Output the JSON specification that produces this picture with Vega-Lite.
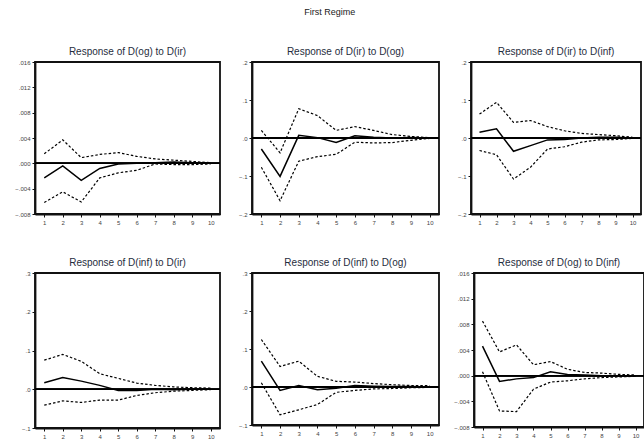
{
  "$schema": "https://vega.github.io/schema/vega-lite/v6.json",
  "background": "white",
  "padding": {"left": 13, "top": 8, "right": 0, "bottom": 0},
  "title": {"text": "First Regime", "fontSize": 9, "font": "Liberation Sans", "fontWeight": "normal", "color": "#222", "anchor": "middle", "offset": 29},
  "datasets": {
    "irf": [
      {"panel": 1, "step": 1, "lo": -0.0062, "irf": -0.0023, "hi": 0.0015},
      {"panel": 1, "step": 2, "lo": -0.0045, "irf": -0.0004, "hi": 0.0037},
      {"panel": 1, "step": 3, "lo": -0.0061, "irf": -0.0027, "hi": 0.0009},
      {"panel": 1, "step": 4, "lo": -0.0023, "irf": -0.0008, "hi": 0.0014},
      {"panel": 1, "step": 5, "lo": -0.0015, "irf": -0.0001, "hi": 0.0017},
      {"panel": 1, "step": 6, "lo": -0.0011, "irf": 0.0000, "hi": 0.0011},
      {"panel": 1, "step": 7, "lo": -0.0001, "irf": 0.0001, "hi": 0.0007},
      {"panel": 1, "step": 8, "lo": -0.0002, "irf": 0.0002, "hi": 0.0005},
      {"panel": 1, "step": 9, "lo": -0.0002, "irf": 0.0001, "hi": 0.0003},
      {"panel": 1, "step": 10, "lo": -0.0001, "irf": 0.0000, "hi": 0.0001},
      {"panel": 2, "step": 1, "lo": -0.077, "irf": -0.029, "hi": 0.020},
      {"panel": 2, "step": 2, "lo": -0.165, "irf": -0.101, "hi": -0.039},
      {"panel": 2, "step": 3, "lo": -0.061, "irf": 0.007, "hi": 0.077},
      {"panel": 2, "step": 4, "lo": -0.049, "irf": 0.001, "hi": 0.059},
      {"panel": 2, "step": 5, "lo": -0.043, "irf": -0.012, "hi": 0.020},
      {"panel": 2, "step": 6, "lo": -0.011, "irf": 0.006, "hi": 0.030},
      {"panel": 2, "step": 7, "lo": -0.013, "irf": 0.002, "hi": 0.020},
      {"panel": 2, "step": 8, "lo": -0.012, "irf": 0.000, "hi": 0.009},
      {"panel": 2, "step": 9, "lo": -0.006, "irf": 0.001, "hi": 0.004},
      {"panel": 2, "step": 10, "lo": -0.001, "irf": 0.000, "hi": 0.001},
      {"panel": 3, "step": 1, "lo": -0.033, "irf": 0.015, "hi": 0.063},
      {"panel": 3, "step": 2, "lo": -0.044, "irf": 0.024, "hi": 0.094},
      {"panel": 3, "step": 3, "lo": -0.108, "irf": -0.035, "hi": 0.041},
      {"panel": 3, "step": 4, "lo": -0.077, "irf": -0.020, "hi": 0.046},
      {"panel": 3, "step": 5, "lo": -0.029, "irf": -0.005, "hi": 0.030},
      {"panel": 3, "step": 6, "lo": -0.023, "irf": -0.004, "hi": 0.019},
      {"panel": 3, "step": 7, "lo": -0.011, "irf": 0.000, "hi": 0.012},
      {"panel": 3, "step": 8, "lo": -0.005, "irf": 0.002, "hi": 0.009},
      {"panel": 3, "step": 9, "lo": -0.004, "irf": 0.002, "hi": 0.006},
      {"panel": 3, "step": 10, "lo": -0.001, "irf": 0.000, "hi": 0.002},
      {"panel": 4, "step": 1, "lo": -0.041, "irf": 0.017, "hi": 0.075},
      {"panel": 4, "step": 2, "lo": -0.030, "irf": 0.030, "hi": 0.090},
      {"panel": 4, "step": 3, "lo": -0.034, "irf": 0.021, "hi": 0.072},
      {"panel": 4, "step": 4, "lo": -0.028, "irf": 0.010, "hi": 0.040},
      {"panel": 4, "step": 5, "lo": -0.028, "irf": -0.003, "hi": 0.028},
      {"panel": 4, "step": 6, "lo": -0.016, "irf": -0.003, "hi": 0.016},
      {"panel": 4, "step": 7, "lo": -0.009, "irf": 0.000, "hi": 0.010},
      {"panel": 4, "step": 8, "lo": -0.005, "irf": -0.001, "hi": 0.006},
      {"panel": 4, "step": 9, "lo": -0.003, "irf": 0.000, "hi": 0.004},
      {"panel": 4, "step": 10, "lo": -0.001, "irf": 0.000, "hi": 0.003},
      {"panel": 5, "step": 1, "lo": 0.011, "irf": 0.068, "hi": 0.125},
      {"panel": 5, "step": 2, "lo": -0.073, "irf": -0.009, "hi": 0.054},
      {"panel": 5, "step": 3, "lo": -0.060, "irf": 0.004, "hi": 0.068},
      {"panel": 5, "step": 4, "lo": -0.046, "irf": -0.007, "hi": 0.028},
      {"panel": 5, "step": 5, "lo": -0.014, "irf": -0.003, "hi": 0.015},
      {"panel": 5, "step": 6, "lo": -0.009, "irf": 0.004, "hi": 0.013},
      {"panel": 5, "step": 7, "lo": -0.005, "irf": 0.002, "hi": 0.009},
      {"panel": 5, "step": 8, "lo": -0.004, "irf": 0.001, "hi": 0.006},
      {"panel": 5, "step": 9, "lo": -0.002, "irf": 0.001, "hi": 0.004},
      {"panel": 5, "step": 10, "lo": -0.001, "irf": 0.000, "hi": 0.004},
      {"panel": 6, "step": 1, "lo": 0.0006, "irf": 0.0046, "hi": 0.0085},
      {"panel": 6, "step": 2, "lo": -0.0055, "irf": -0.0009, "hi": 0.0037},
      {"panel": 6, "step": 3, "lo": -0.0056, "irf": -0.0005, "hi": 0.0048},
      {"panel": 6, "step": 4, "lo": -0.0021, "irf": -0.0003, "hi": 0.0017},
      {"panel": 6, "step": 5, "lo": -0.0010, "irf": 0.0006, "hi": 0.0022},
      {"panel": 6, "step": 6, "lo": -0.0008, "irf": 0.0002, "hi": 0.0010},
      {"panel": 6, "step": 7, "lo": -0.0005, "irf": 0.0001, "hi": 0.0005},
      {"panel": 6, "step": 8, "lo": -0.0003, "irf": 0.0000, "hi": 0.0004},
      {"panel": 6, "step": 9, "lo": -0.0002, "irf": 0.0000, "hi": 0.0002},
      {"panel": 6, "step": 10, "lo": -0.0001, "irf": 0.0000, "hi": 0.0001}
    ]
  },
  "spacing": 31,
  "vconcat": [
    {
      "spacing": 11,
      "hconcat": [
        {
          "width": 185, "height": 152,
          "title": "Response of D(og) to D(ir)",
          "data": {"name": "irf"},
          "transform": [{"filter": "datum.panel == 1"}],
          "encoding": {
            "x": {"field": "step", "type": "quantitative", "scale": {"domain": [0.5, 10.5], "nice": false}, "axis": {"values": [1,2,3,4,5,6,7,8,9,10], "tickCount": 20, "title": null, "format": "d"}}
          },
          "layer": [
            {"mark": {"type": "rule", "color": "black", "strokeWidth": 1.2}, "encoding": {"y": {"datum": 0, "type": "quantitative", "scale": {"domain": [-0.008, 0.016], "nice": false}, "axis": {"values": [-0.008,-0.004,0,0.004,0.008,0.012,0.016], "tickCount": 20, "title": null, "labelOverlap": false, "labelExpr": "replace(format(datum.value, '.3f'), '0.', '.')"}}, "x": {"value": 0}, "x2": {"value": 185}}},
            {"mark": {"type": "line", "color": "black", "strokeWidth": 1.2, "strokeDash": [2.5, 2]}, "encoding": {"y": {"field": "hi", "type": "quantitative"}}},
            {"mark": {"type": "line", "color": "black", "strokeWidth": 1.2, "strokeDash": [2.5, 2]}, "encoding": {"y": {"field": "lo", "type": "quantitative"}}},
            {"mark": {"type": "line", "color": "black", "strokeWidth": 1.5}, "encoding": {"y": {"field": "irf", "type": "quantitative"}}}
          ]
        },
        {
          "width": 187, "height": 152,
          "title": "Response of D(ir) to D(og)",
          "data": {"name": "irf"},
          "transform": [{"filter": "datum.panel == 2"}],
          "encoding": {
            "x": {"field": "step", "type": "quantitative", "scale": {"domain": [0.5, 10.5], "nice": false}, "axis": {"values": [1,2,3,4,5,6,7,8,9,10], "tickCount": 20, "title": null, "format": "d"}}
          },
          "layer": [
            {"mark": {"type": "rule", "color": "black", "strokeWidth": 1.2}, "encoding": {"y": {"datum": 0, "type": "quantitative", "scale": {"domain": [-0.2, 0.2], "nice": false}, "axis": {"values": [-0.2,-0.1,0,0.1,0.2], "tickCount": 20, "title": null, "labelOverlap": false, "labelExpr": "replace(format(datum.value, '.1f'), '0.', '.')"}}, "x": {"value": 0}, "x2": {"value": 187}}},
            {"mark": {"type": "line", "color": "black", "strokeWidth": 1.2, "strokeDash": [2.5, 2]}, "encoding": {"y": {"field": "hi", "type": "quantitative"}}},
            {"mark": {"type": "line", "color": "black", "strokeWidth": 1.2, "strokeDash": [2.5, 2]}, "encoding": {"y": {"field": "lo", "type": "quantitative"}}},
            {"mark": {"type": "line", "color": "black", "strokeWidth": 1.5}, "encoding": {"y": {"field": "irf", "type": "quantitative"}}}
          ]
        },
        {
          "width": 170, "height": 152,
          "title": "Response of D(ir) to D(inf)",
          "data": {"name": "irf"},
          "transform": [{"filter": "datum.panel == 3"}],
          "encoding": {
            "x": {"field": "step", "type": "quantitative", "scale": {"domain": [0.5, 10.5], "nice": false}, "axis": {"values": [1,2,3,4,5,6,7,8,9,10], "tickCount": 20, "title": null, "format": "d"}}
          },
          "layer": [
            {"mark": {"type": "rule", "color": "black", "strokeWidth": 1.2}, "encoding": {"y": {"datum": 0, "type": "quantitative", "scale": {"domain": [-0.2, 0.2], "nice": false}, "axis": {"values": [-0.2,-0.1,0,0.1,0.2], "tickCount": 20, "title": null, "labelOverlap": false, "labelExpr": "replace(format(datum.value, '.1f'), '0.', '.')"}}, "x": {"value": 0}, "x2": {"value": 170}}},
            {"mark": {"type": "line", "color": "black", "strokeWidth": 1.2, "strokeDash": [2.5, 2]}, "encoding": {"y": {"field": "hi", "type": "quantitative"}}},
            {"mark": {"type": "line", "color": "black", "strokeWidth": 1.2, "strokeDash": [2.5, 2]}, "encoding": {"y": {"field": "lo", "type": "quantitative"}}},
            {"mark": {"type": "line", "color": "black", "strokeWidth": 1.5}, "encoding": {"y": {"field": "irf", "type": "quantitative"}}}
          ]
        }
      ]
    },
    {
      "spacing": 11,
      "hconcat": [
        {
          "width": 185, "height": 155,
          "title": "Response of D(inf) to D(ir)",
          "data": {"name": "irf"},
          "transform": [{"filter": "datum.panel == 4"}],
          "encoding": {
            "x": {"field": "step", "type": "quantitative", "scale": {"domain": [0.5, 10.5], "nice": false}, "axis": {"values": [1,2,3,4,5,6,7,8,9,10], "tickCount": 20, "title": null, "format": "d"}}
          },
          "layer": [
            {"mark": {"type": "rule", "color": "black", "strokeWidth": 1.2}, "encoding": {"y": {"datum": 0, "type": "quantitative", "scale": {"domain": [-0.1, 0.3], "nice": false}, "axis": {"values": [-0.1,0,0.1,0.2,0.3], "tickCount": 20, "title": null, "labelOverlap": false, "labelExpr": "replace(format(datum.value, '.1f'), '0.', '.')"}}, "x": {"value": 0}, "x2": {"value": 185}}},
            {"mark": {"type": "line", "color": "black", "strokeWidth": 1.2, "strokeDash": [2.5, 2]}, "encoding": {"y": {"field": "hi", "type": "quantitative"}}},
            {"mark": {"type": "line", "color": "black", "strokeWidth": 1.2, "strokeDash": [2.5, 2]}, "encoding": {"y": {"field": "lo", "type": "quantitative"}}},
            {"mark": {"type": "line", "color": "black", "strokeWidth": 1.5}, "encoding": {"y": {"field": "irf", "type": "quantitative"}}}
          ]
        },
        {
          "width": 187, "height": 152,
          "title": "Response of D(inf) to D(og)",
          "data": {"name": "irf"},
          "transform": [{"filter": "datum.panel == 5"}],
          "encoding": {
            "x": {"field": "step", "type": "quantitative", "scale": {"domain": [0.5, 10.5], "nice": false}, "axis": {"values": [1,2,3,4,5,6,7,8,9,10], "tickCount": 20, "title": null, "format": "d"}}
          },
          "layer": [
            {"mark": {"type": "rule", "color": "black", "strokeWidth": 1.2}, "encoding": {"y": {"datum": 0, "type": "quantitative", "scale": {"domain": [-0.1, 0.3], "nice": false}, "axis": {"values": [-0.1,0,0.1,0.2,0.3], "tickCount": 20, "title": null, "labelOverlap": false, "labelExpr": "replace(format(datum.value, '.1f'), '0.', '.')"}}, "x": {"value": 0}, "x2": {"value": 187}}},
            {"mark": {"type": "line", "color": "black", "strokeWidth": 1.2, "strokeDash": [2.5, 2]}, "encoding": {"y": {"field": "hi", "type": "quantitative"}}},
            {"mark": {"type": "line", "color": "black", "strokeWidth": 1.2, "strokeDash": [2.5, 2]}, "encoding": {"y": {"field": "lo", "type": "quantitative"}}},
            {"mark": {"type": "line", "color": "black", "strokeWidth": 1.5}, "encoding": {"y": {"field": "irf", "type": "quantitative"}}}
          ]
        },
        {
          "width": 170, "height": 154,
          "title": "Response of D(og) to D(inf)",
          "data": {"name": "irf"},
          "transform": [{"filter": "datum.panel == 6"}],
          "encoding": {
            "x": {"field": "step", "type": "quantitative", "scale": {"domain": [0.5, 10.5], "nice": false}, "axis": {"values": [1,2,3,4,5,6,7,8,9,10], "tickCount": 20, "title": null, "format": "d"}}
          },
          "layer": [
            {"mark": {"type": "rule", "color": "black", "strokeWidth": 1.2}, "encoding": {"y": {"datum": 0, "type": "quantitative", "scale": {"domain": [-0.008, 0.016], "nice": false}, "axis": {"values": [-0.008,-0.004,0,0.004,0.008,0.012,0.016], "tickCount": 20, "title": null, "labelOverlap": false, "labelExpr": "replace(format(datum.value, '.3f'), '0.', '.')"}}, "x": {"value": 0}, "x2": {"value": 170}}},
            {"mark": {"type": "line", "color": "black", "strokeWidth": 1.2, "strokeDash": [2.5, 2]}, "encoding": {"y": {"field": "hi", "type": "quantitative"}}},
            {"mark": {"type": "line", "color": "black", "strokeWidth": 1.2, "strokeDash": [2.5, 2]}, "encoding": {"y": {"field": "lo", "type": "quantitative"}}},
            {"mark": {"type": "line", "color": "black", "strokeWidth": 1.5}, "encoding": {"y": {"field": "irf", "type": "quantitative"}}}
          ]
        }
      ]
    }
  ],
  "config": {
    "font": "Liberation Sans",
    "view": {"stroke": "#111", "strokeWidth": 1.8},
    "axis": {"grid": false, "labelFontSize": 6, "labelColor": "#444", "labelFont": "Liberation Sans", "labelOverlap": false, "labelBound": false, "labelFlush": false, "domainColor": "#111", "domainWidth": 1.8, "tickColor": "#111", "tickSize": 3, "labelPadding": 2, "ticks": true},
    "axisY": {"minExtent": 18, "maxExtent": 18},
    "title": {"fontSize": 10, "font": "Liberation Sans", "fontWeight": "normal", "color": "#1f2d3d", "offset": 2}
  }
}
